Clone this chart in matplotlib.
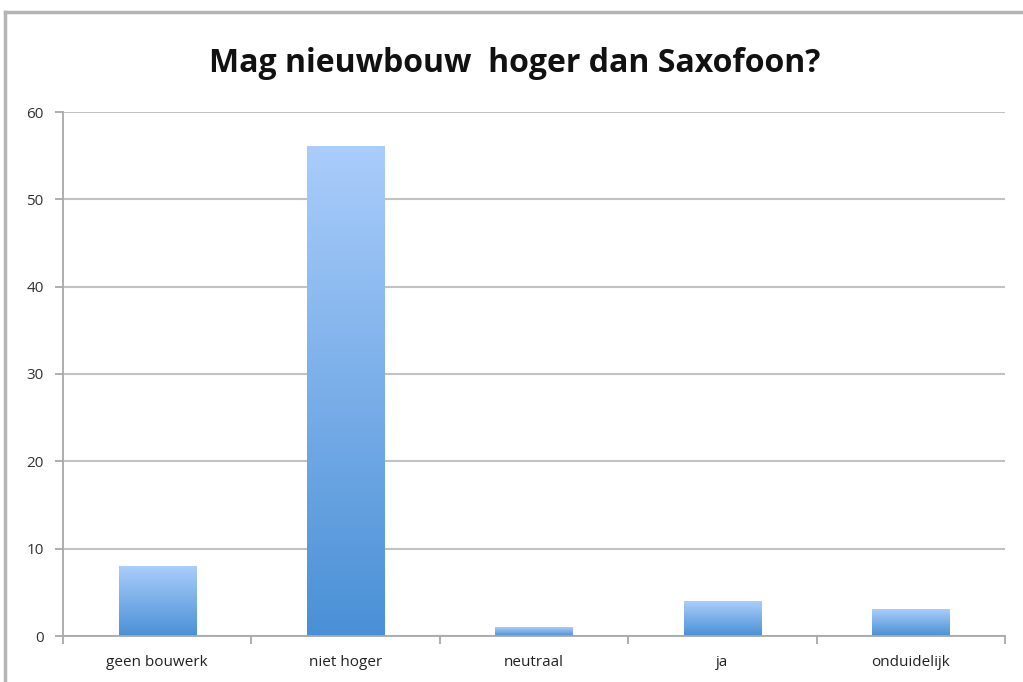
import matplotlib.pyplot as plt
import numpy as np
from matplotlib.colors import LinearSegmentedColormap
from matplotlib.lines import Line2D

categories = ["geen bouwerk", "niet hoger", "neutraal", "ja", "onduidelijk"]
counts = [8, 56, 1, 4, 3]
y_ticks = [0, 10, 20, 30, 40, 50, 60]

fig = plt.figure(figsize=(10.23, 6.82), dpi=100)
ax = fig.add_axes([63 / 1023, 1 - 636 / 682, (1005 - 63) / 1023, (636 - 112) / 682])

# outer chart frame (left and top edges visible)
fig.add_artist(Line2D([5 / 1023, 5 / 1023], [0, 1 - 12 / 682], transform=fig.transFigure,
                      color="#b5b5b5", lw=2.5))
fig.add_artist(Line2D([5 / 1023, 1], [1 - 12 / 682, 1 - 12 / 682], transform=fig.transFigure,
                      color="#b5b5b5", lw=2.5))

cmap = LinearSegmentedColormap.from_list("bar", ["#4a90d6", "#aacdfb"])
grad = np.linspace(0, 1, 256).reshape(-1, 1)
width = 0.41
x = np.arange(len(categories))
for xi, val in zip(x, counts):
    ax.imshow(grad, cmap=cmap, origin="lower", aspect="auto",
              extent=[xi - width / 2, xi + width / 2, 0, val], zorder=2)

ax.set_xlim(-0.5, len(categories) - 0.5)
ax.set_ylim(0, 60)
ax.set_yticks(y_ticks)
ax.set_xticks(x)
ax.set_xticklabels(categories)
ax.set_xticks(np.arange(-0.5, len(categories)), minor=True)
ax.yaxis.grid(True, color="#c2c2c2", lw=1.5, zorder=0)
ax.set_axisbelow(True)

for side in ["top", "right"]:
    ax.spines[side].set_visible(False)
for side in ["left", "bottom"]:
    ax.spines[side].set_color("#a8a8a8")
    ax.spines[side].set_linewidth(1.3)

ax.tick_params(axis="y", length=6, width=1.3, color="#a8a8a8", labelsize=11, labelcolor="#333333", pad=8)
ax.tick_params(axis="x", which="major", length=0, labelsize=11, labelcolor="#222222", pad=14)
ax.tick_params(axis="x", which="minor", length=6, width=1.3, color="#a8a8a8")
for lab in ax.get_xticklabels() + ax.get_yticklabels():
    lab.set_family("Open Sans")

fig.text(515 / 1023, 1 - 64 / 682, "Mag nieuwbouw  hoger dan Saxofoon?", ha="center", va="center",
         fontsize=23, fontweight="bold", family="Open Sans", color="#111111")

fig.savefig("out.png", dpi=100)
